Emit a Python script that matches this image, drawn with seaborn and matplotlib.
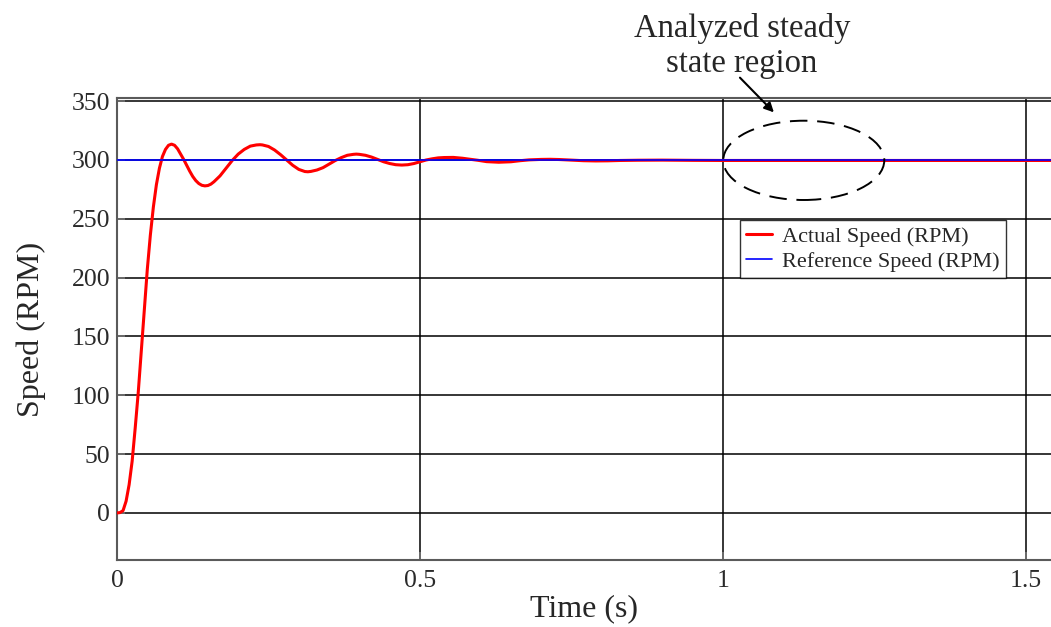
import matplotlib
matplotlib.use("Agg")
import matplotlib.pyplot as plt
from matplotlib.patches import Ellipse
import numpy as np
import pandas as pd
import seaborn as sns

# Motor speed step response (time in s, speed in RPM)
time_s = [0.000, 0.005, 0.010, 0.015, 0.020, 0.025, 0.030, 0.035, 0.040, 0.045,
          0.050, 0.055, 0.060, 0.065, 0.070, 0.075, 0.080, 0.085, 0.090, 0.095,
          0.100, 0.105, 0.110, 0.115, 0.120, 0.125, 0.130, 0.135, 0.140, 0.145,
          0.150, 0.155, 0.160, 0.170, 0.180, 0.190, 0.200, 0.210, 0.220, 0.230,
          0.236, 0.240, 0.250, 0.260, 0.270, 0.280, 0.290, 0.300, 0.310, 0.315,
          0.320, 0.330, 0.340, 0.350, 0.360, 0.370, 0.380, 0.390, 0.395, 0.400,
          0.410, 0.420, 0.430, 0.440, 0.450, 0.460, 0.470, 0.480, 0.490, 0.500,
          0.510, 0.520, 0.530, 0.540, 0.555, 0.570, 0.580, 0.595, 0.610, 0.630,
          0.650, 0.665, 0.680, 0.700, 0.715, 0.730, 0.750, 0.770, 0.790, 0.810,
          0.830, 0.860, 0.900, 0.950, 1.000, 1.100, 1.200, 1.300, 1.400, 1.541]
actual_rpm = [0.0, 0.3, 2.0, 10.0, 24.0, 44.0, 72.0, 102.0, 137.0, 172.0,
              207.0, 236.0, 260.0, 279.0, 293.0, 303.0, 309.0, 312.5, 313.5, 312.5,
              309.5, 305.0, 300.5, 295.5, 290.5, 286.0, 282.5, 280.0, 278.5, 278.0,
              278.3, 279.5, 281.5, 286.5, 293.0, 299.5, 305.0, 309.0, 311.8, 312.8,
              313.0, 312.8, 311.5, 308.5, 304.5, 300.0, 295.5, 292.0, 290.2, 290.0,
              290.3, 291.5, 293.5, 296.5, 299.5, 302.0, 304.0, 304.8, 305.0, 304.8,
              304.0, 302.5, 300.5, 298.5, 297.0, 296.0, 295.7, 296.0, 297.0, 298.5,
              300.0, 301.0, 301.8, 302.1, 302.2, 301.5, 300.8, 299.8, 298.6, 298.1,
              298.5, 299.4, 300.1, 300.5, 300.6, 300.4, 299.9, 299.4, 299.2, 299.3,
              299.6, 299.8, 299.9, 299.7, 299.6, 299.6, 299.6, 299.6, 299.6, 299.6]
ref_time_s = [0.0, 1.541]
ref_rpm = [300.0, 300.0]

y_ticks = [0, 50, 100, 150, 200, 250, 300, 350]
x_ticks = [0, 0.5, 1, 1.5]
x_tick_labels = ["0", "0.5", "1", "1.5"]

actual = pd.DataFrame({"t": time_s, "rpm": actual_rpm})
reference = pd.DataFrame({"t": ref_time_s, "rpm": ref_rpm})

sns.set_style("white")
plt.rcParams["font.family"] = ["Liberation Serif", "DejaVu Serif"]

fig = plt.figure(figsize=(10.51, 6.27), dpi=100)
ax = fig.add_axes([117 / 1051, 67 / 627, 1 - 117 / 1051, 462 / 627])

sns.lineplot(data=actual, x="t", y="rpm", ax=ax, color="#ff0000", lw=2.2,
             label="Actual Speed (RPM)", zorder=3)
sns.lineplot(data=reference, x="t", y="rpm", ax=ax, color="#0000ff", lw=1.2,
             label="Reference Speed (RPM)", zorder=4)

ax.set_xlim(0, 1.5413)
ax.set_ylim(-40, 352.7)
ax.set_xticks(x_ticks)
ax.set_xticklabels(x_tick_labels)
ax.set_yticks(y_ticks)
ax.grid(True, color="black", lw=1.1)
ax.set_axisbelow(True)

for side in ["left", "bottom", "top"]:
    ax.spines[side].set_color("#5a5a5a")
    ax.spines[side].set_linewidth(1.5)
ax.spines["right"].set_visible(False)
ax.tick_params(axis="both", direction="in", length=6, width=1.3, color="#707070",
               labelsize=18.5, labelcolor="#2a2a2a")
ax.tick_params(axis="y", pad=5)
ax.tick_params(axis="x", pad=7)
ax.tick_params(left=True, bottom=True)

ax.set_xlabel("Time (s)", fontsize=23, labelpad=2)
ax.set_ylabel("Speed (RPM)", fontsize=23, labelpad=18)

# Steady state region marker
ax.add_patch(Ellipse((1.1333, 299.7), 0.2657, 67.4, fill=False, ec="black",
                     lw=1.4, ls=(0, (9, 5)), zorder=5))
ax.annotate("", xy=(1.084, 340.5), xytext=(1.028, 370.0),
            arrowprops=dict(arrowstyle="-|>", color="black", lw=1.5,
                            mutation_scale=14, shrinkA=0, shrinkB=0),
            annotation_clip=False)
ax.text(1.031, 397.0, "Analyzed steady\nstate region", ha="center", va="center",
        fontsize=23.5, multialignment="center", clip_on=False)

leg = ax.legend(loc="upper left", bbox_to_anchor=(740 / 1051, 1 - 220 / 627),
                bbox_transform=fig.transFigure, borderaxespad=0, fontsize=16,
                frameon=True, fancybox=False, edgecolor="black",
                handlelength=1.15, handletextpad=0.45, labelspacing=0.22,
                borderpad=0.28)
leg.get_frame().set_linewidth(1.0)
leg.set_zorder(6)

fig.savefig("out.png", dpi=100)
